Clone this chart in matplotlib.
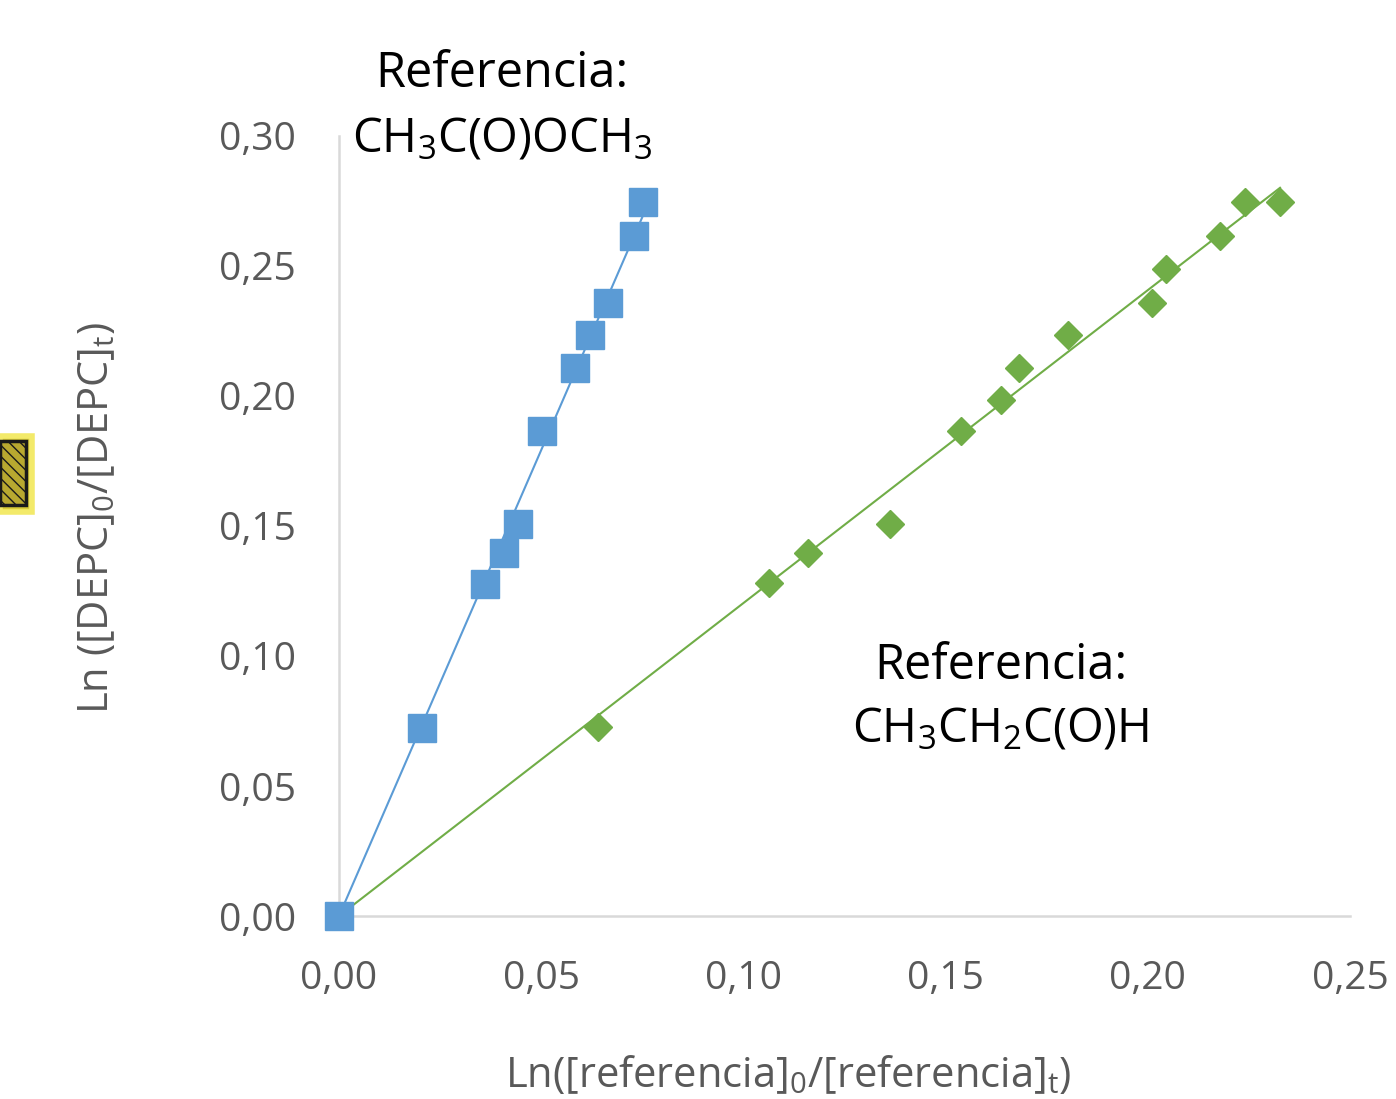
import numpy as np
import matplotlib
matplotlib.use("Agg")
import matplotlib.pyplot as plt
from matplotlib.patches import Rectangle

plt.rcParams['font.family'] = ['Open Sans', 'DejaVu Sans']
plt.rcParams['mathtext.fontset'] = 'custom'
plt.rcParams['mathtext.rm'] = 'Open Sans'
plt.rcParams['mathtext.it'] = 'Open Sans'

# Data
x_acetate = [0.0, 0.0205, 0.0361, 0.0408, 0.0443, 0.0502, 0.0584, 0.0621, 0.0665, 0.0729, 0.0752]
y_acetate = [0.0, 0.0723, 0.1277, 0.1396, 0.1508, 0.1865, 0.2108, 0.2235, 0.2358, 0.2615, 0.2746]

x_propanal = [0.0640, 0.1063, 0.1160, 0.1362, 0.1538, 0.1637, 0.1681, 0.1803, 0.2010, 0.2045, 0.2179, 0.2240, 0.2327]
y_propanal = [0.0727, 0.1281, 0.1396, 0.1508, 0.1865, 0.1985, 0.2108, 0.2235, 0.2358, 0.2488, 0.2615, 0.2746, 0.2746]

x_ticks = [0.00, 0.05, 0.10, 0.15, 0.20, 0.25]
y_ticks = [0.00, 0.05, 0.10, 0.15, 0.20, 0.25, 0.30]

blue = '#5B9BD5'
green = '#70AD47'
gray_text = '#595959'
axis_gray = '#D9D9D9'

W, H = 1396, 1099
fig = plt.figure(figsize=(W / 100, H / 100), dpi=100)
ax = fig.add_axes([339 / W, 1 - 916 / H, 1011 / W, 780 / H])

def fit_origin(x, y):
    x = np.asarray(x); y = np.asarray(y)
    return np.sum(x * y) / np.sum(x * x)

# trendlines (linear, through origin)
for xs, ys, c in [(x_acetate, y_acetate, blue), (x_propanal, y_propanal, green)]:
    k = fit_origin(xs, ys)
    xx = np.array([0.0, max(xs)])
    ax.plot(xx, k * xx, color=c, lw=1.5, zorder=3)

ax.plot(x_propanal, y_propanal, linestyle='none', marker='D', markersize=14.5,
        color=green, markeredgecolor=green, zorder=4, clip_on=False)
ax.plot(x_acetate, y_acetate, linestyle='none', marker='s', markersize=19.5,
        color=blue, markeredgecolor=blue, zorder=5, clip_on=False)

ax.set_xlim(0, 0.25)
ax.set_ylim(0, 0.30)
ax.set_xticks(x_ticks)
ax.set_yticks(y_ticks)
ax.set_xticklabels([f"{v:.2f}".replace('.', ',') for v in x_ticks])
ax.set_yticklabels([f"{v:.2f}".replace('.', ',') for v in y_ticks])
ax.tick_params(axis='both', length=0, labelsize=28, colors=gray_text)
ax.tick_params(axis='x', pad=32)
ax.tick_params(axis='y', pad=31)
for lab in ax.get_xticklabels():
    lab.set_clip_on(False)

for s in ['top', 'right']:
    ax.spines[s].set_visible(False)
for s in ['left', 'bottom']:
    ax.spines[s].set_color(axis_gray)
    ax.spines[s].set_linewidth(1.8)

# axis titles
fig.text(788 / W, 1 - 1075 / H,
         r"Ln([referencia]$_\mathregular{0}$/[referencia]$_\mathregular{t}$)",
         ha='center', va='center', fontsize=30, color=gray_text)
fig.text(97 / W, 1 - 518 / H,
         r"Ln ([DEPC]$_\mathregular{0}$/[DEPC]$_\mathregular{t}$)",
         ha='center', va='center', fontsize=30, color=gray_text, rotation=90)

# annotations
fig.text(502 / W, 1 - 87 / H, "Referencia:", ha='center', va='baseline',
         fontsize=35, color='black')
fig.text(502 / W, 1 - 152 / H, r"CH$_\mathregular{3}$C(O)OCH$_\mathregular{3}$",
         ha='center', va='baseline', fontsize=34, color='black')
fig.text(1001 / W, 1 - 679 / H, "Referencia:", ha='center', va='baseline',
         fontsize=35, color='black')
fig.text(1001 / W, 1 - 742 / H, r"CH$_\mathregular{3}$CH$_\mathregular{2}$C(O)H",
         ha='center', va='baseline', fontsize=34, color='black')

# small decorative icon at left edge
fig.patches.append(Rectangle((0, 1 - 512 / H), 32 / W, 76 / H, transform=fig.transFigure,
                             facecolor='#d9cc3a', edgecolor='#f3ea6a', lw=4, zorder=1))
fig.patches.append(Rectangle((0, 1 - 505 / H), 26 / W, 64 / H, transform=fig.transFigure,
                             facecolor='#b8a830', edgecolor='#1a1a1a', lw=2.5,
                             hatch='\\\\\\', zorder=2))

fig.savefig("out.png", dpi=100)
